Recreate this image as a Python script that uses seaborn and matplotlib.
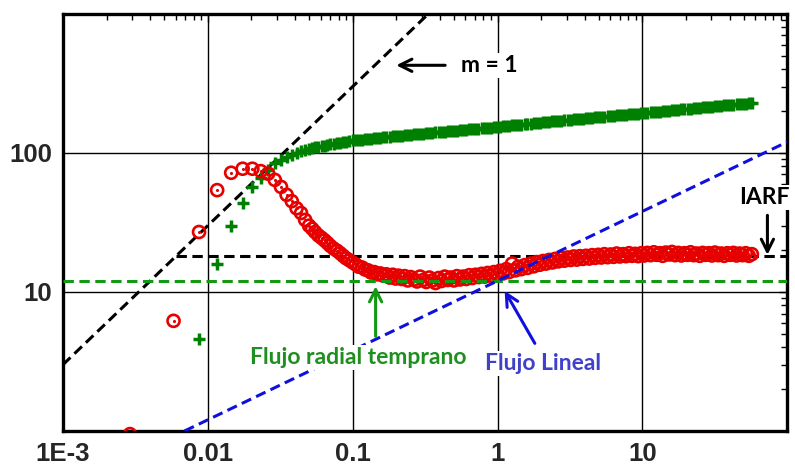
import matplotlib
matplotlib.use("Agg")
import matplotlib.pyplot as plt
import numpy as np
import pandas as pd
import seaborn as sns
from matplotlib.ticker import LogLocator, NullFormatter

# elapsed time (hr)
t = [0.0029, 0.0058, 0.0087, 0.0116, 0.0145, 0.0174, 0.0203, 0.0232, 0.0261, 0.029,
     0.032, 0.035, 0.038, 0.041, 0.044, 0.047,
     0.050, 0.0525, 0.055, 0.058, 0.061, 0.064, 0.067, 0.070, 0.074, 0.078,
     0.082, 0.086, 0.090, 0.095, 0.100,
     0.105, 0.110, 0.116, 0.122, 0.128, 0.134, 0.141, 0.148, 0.155, 0.163,
     0.171, 0.180, 0.189, 0.198, 0.208, 0.218, 0.229, 0.240, 0.252, 0.265,
     0.278, 0.292, 0.307, 0.322, 0.338, 0.355, 0.373, 0.392, 0.411, 0.432,
     0.453, 0.476, 0.500, 0.525, 0.551, 0.579, 0.608, 0.638, 0.670, 0.704,
     0.739, 0.776, 0.815, 0.855, 0.898, 0.943, 0.990,
     1.04, 1.09, 1.15, 1.20, 1.26, 1.33, 1.39, 1.46, 1.54, 1.61,
     1.70, 1.78, 1.87, 1.96, 2.06, 2.16, 2.27, 2.39, 2.50, 2.63,
     2.76, 2.90, 3.05, 3.20, 3.36, 3.53, 3.70, 3.89, 4.08, 4.29,
     4.50, 4.73, 4.96, 5.21, 5.47, 5.75, 6.03, 6.34, 6.65, 6.99,
     7.34, 7.70, 8.09, 8.49, 8.92, 9.36, 9.83,
     10.3, 10.8, 11.4, 12.0, 12.6, 13.2, 13.8, 14.5, 15.3, 16.0,
     16.8, 17.7, 18.6, 19.5, 20.5, 21.5, 22.6, 23.7, 24.9, 26.1,
     27.4, 28.8, 30.2, 31.7, 33.3, 35.0, 36.7, 38.6, 40.5, 42.5,
     44.7, 46.9, 49.2, 51.7, 54.3, 57.0]

# pressure change (psi)
dp = [np.nan, np.nan, 4.6, 16, 30, 44, 57, 66, 76, 84,
      89, 93, 97, 100, 103, 105,
      107, 108, 109.5, 111, 112, 113, 114.5, 115.5, 116.5, 117.5,
      118.5, 119.5, 120.5, 121.5, 123,
      123.5, 124.2, 124.8, 125.5, 126.1, 126.8, 127.4, 128.1, 128.7, 129.4,
      130.0, 130.7, 131.3, 132.0, 132.6, 133.3, 133.9, 134.6, 135.2, 135.9,
      136.5, 137.2, 137.8, 138.5, 139.1, 139.8, 140.4, 141.1, 141.7, 142.4,
      143.0, 143.7, 144.3, 145.0, 145.6, 146.3, 146.9, 147.6, 148.2, 148.9,
      149.5, 150.2, 150.8, 151.5, 152.1, 152.8, 153.4,
      154.3, 155.1, 156.0, 156.8, 157.6, 158.5, 159.3, 160.1, 161.0, 161.8,
      162.6, 163.5, 164.3, 165.1, 166.0, 166.8, 167.6, 168.5, 169.3, 170.1,
      171.0, 171.8, 172.6, 173.5, 174.3, 175.1, 176.0, 176.8, 177.6, 178.5,
      179.3, 180.1, 181.0, 181.8, 182.6, 183.5, 184.3, 185.1, 186.0, 186.8,
      187.6, 188.5, 189.3, 190.1, 191.0, 191.8, 192.6,
      193.5, 194.5, 195.5, 196.5, 197.5, 198.5, 199.5, 200.5, 201.5, 202.5,
      203.5, 204.5, 205.5, 206.5, 207.5, 208.5, 209.5, 210.5, 211.5, 212.5,
      213.5, 214.5, 215.5, 216.5, 217.5, 218.5, 219.5, 220.5, 221.5, 222.5,
      223.5, 224.5, 225.5, 226.5, 227.5, 229]

# pressure derivative (psi)
dp_der = [0.95, 6.2, 27, 54, 72, 77, 77, 74, 71, 64,
          57, 50, 45, 40, 37, 33,
          30, 28.5, 27, 25.5, 24.5, 23.5, 22.5, 21.5, 20.5, 19.8,
          19, 18.2, 17.5, 16.9, 16.3,
          15.8, 15.2, 15.0, 14.5, 14.3, 13.8, 13.9, 13.4, 13.6, 13.1,
          13.4, 12.7, 13.3, 12.5, 13.1, 12.4, 13.0, 12.1, 12.8, 12.3,
          11.9, 12.9, 12.2, 11.8, 12.7, 12.1, 11.6, 12.6, 12.0, 12.9,
          12.2, 12.7, 12.1, 13.0, 12.3, 12.9, 12.4, 13.2, 12.6, 13.3,
          12.8, 13.5, 12.9, 13.7, 13.1, 13.9, 13.3,
          14.2, 13.6, 14.6, 13.9, 16.0, 14.3, 15.2, 14.6, 15.6, 14.9,
          16.0, 15.3, 16.4, 15.7, 16.7, 16.0, 17.0, 16.3, 17.3, 16.6,
          17.6, 16.8, 17.7, 17.0, 18.0, 17.1, 18.1, 17.3, 18.2, 17.4,
          18.4, 17.6, 18.5, 17.7, 18.7, 17.8, 18.6, 17.9, 18.9, 18.0,
          18.7, 18.1, 19.0, 18.2, 18.8, 18.1, 19.0,
          18.3, 19.1, 18.4, 19.3, 18.5, 19.0, 18.2, 19.2, 18.6, 19.4,
          18.4, 19.1, 18.3, 19.0, 18.5, 19.3, 18.4, 18.9, 18.2, 19.1,
          18.5, 19.0, 18.3, 19.2, 18.4, 18.9, 18.2, 19.0, 18.5, 19.1,
          18.3, 18.9, 18.4, 19.0, 18.2, 18.7]

# straight-line flow regime fits
unit_slope_x = [0.001, 0.333]
unit_slope_y = [3.0, 1000.0]
iarf_x = [0.006, 100]
iarf_y = [18, 18]
radial_x = [0.001, 100]
radial_y = [12, 12]
linear_x = [0.0069, 100]
linear_y = [1.0, 120]

x_ticks = [1e-3, 1e-2, 1e-1, 1, 10, 100]
x_labels = ["1E-3", "0.01", "0.1", "1", "10", ""]
y_ticks = [1, 10, 100, 1000]
y_labels = ["", "10", "100", ""]

df = pd.DataFrame({"t": t, "dp": dp, "der": dp_der})

sns.set_style("white")
plt.rcParams["font.family"] = ["Liberation Sans", "DejaVu Sans"]

fig = plt.figure(figsize=(7.95, 4.65), dpi=100)
ax = fig.add_axes([0.0792, 0.0731, 0.911, 0.897])
ax.set_xscale("log")
ax.set_yscale("log")

dash = (0, (3.4, 1.8))
ax.plot(unit_slope_x, unit_slope_y, color="black", lw=2.2, ls=dash, zorder=2)
ax.plot(iarf_x, iarf_y, color="black", lw=2.2, ls=dash, zorder=2)

sns.scatterplot(data=df, x="t", y="dp", ax=ax, marker="+", color="#008000",
                s=80, linewidth=2.5, zorder=3)
sns.scatterplot(data=df, x="t", y="der", ax=ax, marker="o", s=75,
                facecolor="none", edgecolor="#e60000", linewidth=1.9, zorder=4)
sns.scatterplot(data=df, x="t", y="der", ax=ax, marker="o", s=5,
                color="#e60000", linewidth=0, zorder=4)

ax.plot(radial_x, radial_y, color="#139a13", lw=2.2, ls=dash, zorder=5)
ax.plot(linear_x, linear_y, color="#1010dd", lw=2.2, ls=dash, zorder=5)

ax.set_xlim(1e-3, 100)
ax.set_ylim(1, 1000)
ax.set_xticks(x_ticks, x_labels)
ax.set_yticks(y_ticks, y_labels)
ax.xaxis.set_minor_locator(LogLocator(base=10, subs=np.arange(2, 10), numticks=20))
ax.yaxis.set_minor_locator(LogLocator(base=10, subs=np.arange(2, 10), numticks=20))
ax.xaxis.set_minor_formatter(NullFormatter())
ax.yaxis.set_minor_formatter(NullFormatter())
ax.tick_params(which="both", direction="in", top=True, right=True, color="black")
ax.tick_params(which="major", length=6, width=1, labelsize=18.5, pad=8)
ax.tick_params(which="minor", length=4, width=1)
for lbl in ax.get_xticklabels() + ax.get_yticklabels():
    lbl.set_fontweight("bold")
ax.grid(which="major", color="black", lw=1.0)
ax.set_axisbelow(True)
for sp in ax.spines.values():
    sp.set_linewidth(2.4)
    sp.set_color("black")
ax.set_xlabel("")
ax.set_ylabel("")

note = dict(fontsize=16.5, fontweight="bold", family=["Lato", "DejaVu Sans"],
            ha="center", va="center", bbox=dict(fc="white", ec="none", pad=1.5), zorder=6)
arrow = dict(arrowstyle="->", lw=2.2, mutation_scale=22, shrinkA=0, shrinkB=0)

ax.annotate("", xy=(0.2, 427), xytext=(0.435, 427), arrowprops=dict(color="black", **arrow), zorder=6)
ax.text(0.88, 427, "m = 1", color="black", **note)

ax.annotate("", xy=(73, 18.5), xytext=(73, 35.6), arrowprops=dict(color="black", **arrow), zorder=6)
ax.text(70, 48, "IARF", color="black", **note)

ax.annotate("", xy=(0.144, 11.0), xytext=(0.144, 4.8), arrowprops=dict(color="#139a13", **arrow), zorder=6)
ax.text(0.11, 3.38, "Flujo radial temprano", color="#1f8f1f", **note)

ax.annotate("", xy=(1.12, 10.2), xytext=(1.81, 4.27), arrowprops=dict(color="#1010dd", **arrow), zorder=6)
ax.text(2.05, 3.06, "Flujo Lineal", color="#4040cc", **note)

fig.savefig("out.png", dpi=100)
